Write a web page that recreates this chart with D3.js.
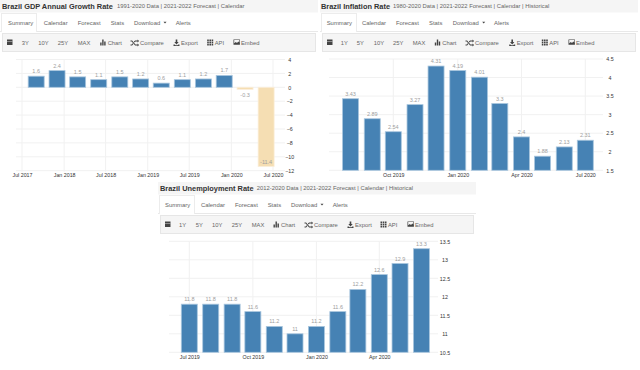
<!DOCTYPE html>
<html>
<head>
<meta charset="utf-8">
<script src="https://cdn.jsdelivr.net/npm/d3@7"></script>
<style>
  html, body { margin: 0; padding: 0; background: #fff; }
  text { font-family: "Liberation Sans", Arial, sans-serif; }
</style>
</head>
<body>
<svg id="chart" width="640" height="370"></svg>
<script>
// values
const gdpDates = ["2017-09-01", "2017-12-01", "2018-03-01", "2018-06-01", "2018-09-01", "2018-12-01",
  "2019-03-01", "2019-06-01", "2019-09-01", "2019-12-01", "2020-03-01", "2020-06-01"];
const gdpValues = [1.6, 2.4, 1.5, 1.1, 1.5, 1.2, 0.6, 1.1, 1.2, 1.7, -0.3, -11.4];
const gdpForecast = [false, false, false, false, false, false, false, false, false, false, true, true];
const gdpTicks = ["2017-07-01", "2018-01-01", "2018-07-01", "2019-01-01", "2019-07-01", "2020-01-01", "2020-07-01"];
const gdpYTicks = [4, 2, 0, -2, -4, -6, -8, -10, -12];

const inflationDates = ["2019-08-01", "2019-09-01", "2019-10-01", "2019-11-01", "2019-12-01", "2020-01-01",
  "2020-02-01", "2020-03-01", "2020-04-01", "2020-05-01", "2020-06-01", "2020-07-01"];
const inflationValues = [3.43, 2.89, 2.54, 3.27, 4.31, 4.19, 4.01, 3.3, 2.4, 1.88, 2.13, 2.31];
const inflationTicks = ["2019-10-01", "2020-01-01", "2020-04-01", "2020-07-01"];
const inflationYTicks = [1.5, 2, 2.5, 3, 3.5, 4, 4.5];

const jobsDates = ["2019-07-01", "2019-08-01", "2019-09-01", "2019-10-01", "2019-11-01", "2019-12-01",
  "2020-01-01", "2020-02-01", "2020-03-01", "2020-04-01", "2020-05-01", "2020-06-01"];
const jobsValues = [11.8, 11.8, 11.8, 11.6, 11.2, 11, 11.2, 11.6, 12.2, 12.6, 12.9, 13.3];
const jobsTicks = ["2019-07-01", "2019-10-01", "2020-01-01", "2020-04-01"];
const jobsYTicks = [10.5, 11, 11.5, 12, 12.5, 13, 13.5];

const tabs = ["Summary", "Calendar", "Forecast", "Stats", "Download", "Alerts"];
const parseDate = d3.utcParse("%Y-%m-%d");
const tickFormat = d3.utcFormat("%b %Y");
const svg = d3.select("#chart");

// toolbar glyphs, 6px box with the origin at top left
const icons = {
  chart: "M0 6V3h1.4v3zM2 6V0h1.4v6zM4 6V2h1.4v4z",
  compare: "M0 1h1.6l3.4 4H7V4l1.6 1.5L7 7V6H4.6L1.2 2H0zM0 5h1.2l1-1.2.7.8L1.6 6H0zM4.6 1H7V0l1.6 1.5L7 3V2H5l-.9 1-.7-.8z",
  export: "M2.2 0h1.6v2.6h1.4L3 5 .8 2.6h1.4zM0 5h1.2l.9.9h1.8l.9-.9H6v1.6H0z",
  api: "M0 0h1.6v1.6H0zM2.2 0h1.6v1.6H2.2zM4.4 0H6v1.6H4.4zM0 2.2h1.6v1.6H0zM2.2 2.2h1.6v1.6H2.2zM4.4 2.2H6v1.6H4.4zM0 4.4h1.6V6H0zM2.2 4.4h1.6V6H2.2zM4.4 4.4H6V6H4.4z",
  embed: "M0 0h6.4v5.4H0zM.7.7v3.2l1.6-1.4 1.2 1 1.3-1.5 1 1.1V.7z"
};

function panel(opts) {
  const g = svg.append("g").attr("transform", `translate(${opts.left},${opts.top})`);

  // title strip
  g.append("rect").attr("x", 0).attr("y", 0).attr("width", opts.width).attr("height", 12.5).attr("fill", "#f5f5f5");
  g.append("text").attr("x", opts.titleX).attr("y", 8.5)
    .attr("font-size", 7.4).attr("font-weight", "bold").attr("fill", "#333").text(opts.title);
  g.append("text").attr("x", opts.subX).attr("y", 8.2)
    .attr("font-size", 5.85).attr("fill", "#666").text(opts.sub);

  // tabs
  g.append("line").attr("x1", 0).attr("x2", opts.width).attr("y1", 31.5).attr("y2", 31.5).attr("stroke", "#e8e8e8");
  g.append("rect").attr("x", 1.5).attr("y", 13.5).attr("width", 35).attr("height", 18)
    .attr("fill", "#fff").attr("stroke", "#ececec");
  g.append("rect").attr("x", 2).attr("y", 31).attr("width", 34).attr("height", 1.5).attr("fill", "#fff");
  const tabG = g.append("g").attr("font-size", 5.9).attr("fill", "#666");
  tabs.forEach((t, i) => {
    tabG.append("text").attr("x", opts.tabX[i]).attr("y", 24.5).text(t);
  });
  tabG.append("path").attr("d", `M${opts.tabX[4] + 29.5} 21.7 h3 l-1.5 1.8 z`).attr("fill", "#444");

  // toolbar
  g.append("rect").attr("x", 2.5).attr("y", 33.5).attr("width", opts.width - 5).attr("height", 18)
    .attr("fill", "#f5f5f5").attr("stroke", "#e6e6e6");
  g.append("rect").attr("x", 7).attr("y", 39.5).attr("width", 5.5).attr("height", 5.5).attr("fill", "#444");
  g.append("rect").attr("x", 7).attr("y", 41).attr("width", 5.5).attr("height", 0.5).attr("fill", "#ddd");
  opts.toolbar.forEach(d => {
    g.append("text").attr("x", d[1]).attr("y", 44.5).attr("font-size", 5.8).attr("fill", "#666").text(d[0]);
    if (d[2]) {
      const off = d[2] === "compare" ? 9.5 : 7.5;
      g.append("path").attr("d", icons[d[2]]).attr("fill", "#444")
        .attr("transform", `translate(${d[1] - off},39.4)`);
    }
  });

  // plot
  const dates = opts.dates.map(parseDate);
  const ticks = opts.ticks.map(parseDate);
  const x = d3.scaleTime().domain(d3.extent(ticks)).range(opts.xRange);
  const y = d3.scaleLinear().domain(opts.yDomain).range(opts.yRange);
  const plot = svg.append("g");
  const base = opts.base;

  plot.selectAll("line.h").data(opts.yTicks).enter().append("line").attr("class", "h")
    .attr("x1", opts.gridLeft).attr("x2", opts.gridRight)
    .attr("y1", d => y(d)).attr("y2", d => y(d))
    .attr("stroke", "#f1f1f1");
  plot.selectAll("line.v").data(ticks).enter().append("line").attr("class", "v")
    .attr("x1", d => x(d)).attr("x2", d => x(d))
    .attr("y1", opts.yRange[1]).attr("y2", opts.yRange[0] + 1)
    .attr("stroke", "#f1f1f1");

  const axisX = d3.axisBottom(x).tickValues(ticks).tickFormat(tickFormat).tickSize(0).tickPadding(0);
  const gx = plot.append("g").attr("transform", `translate(0,${opts.yRange[0] + 3})`).call(axisX);
  gx.select(".domain").remove();
  gx.selectAll("text").attr("font-size", 5.3).attr("fill", "#333").attr("font-family", "Liberation Sans");

  const axisY = d3.axisRight(y).tickValues(opts.yTicks).tickFormat(d3.format("")).tickSize(0).tickPadding(0);
  const gy = plot.append("g").attr("transform", `translate(${opts.axisX},0)`).call(axisY);
  gy.select(".domain").remove();
  gy.selectAll("text").attr("font-size", 5.3).attr("fill", "#333").attr("text-anchor", "middle").attr("font-family", "Liberation Sans");

  const rows = opts.values.map((v, i) => ({ date: dates[i], value: v, forecast: opts.forecast ? opts.forecast[i] : false }));
  const barW = 16;

  plot.selectAll("rect.bar").data(rows).enter().append("rect").attr("class", "bar")
    .attr("x", d => x(d.date) - barW / 2)
    .attr("width", barW)
    .attr("y", d => Math.min(y(d.value), y(base)))
    .attr("height", d => Math.abs(y(d.value) - y(base)))
    .attr("fill", d => d.forecast ? "#f5deb3" : "#4682b4")
    .attr("stroke", d => d.forecast ? "#fbeeda" : "#a9c6de")
    .attr("stroke-width", 0.8);

  plot.selectAll("text.lab").data(rows).enter().append("text").attr("class", "lab")
    .attr("x", d => x(d.date))
    .attr("y", d => {
      if (d.value === -11.4) return y(d.value) - 2.5;
      return d.value < base ? y(d.value) + 8 : y(d.value) - 3;
    })
    .attr("text-anchor", "middle")
    .attr("font-size", 5.5)
    .attr("fill", "#a0a0a0")
    .text(d => d.value);
}

panel({
  left: 0, top: 0, width: 318, titleX: 2, subX: 117,
  title: "Brazil GDP Annual Growth Rate",
  sub: "1991-2020 Data | 2021-2022 Forecast | Calendar",
  tabX: [8, 43.7, 77.7, 110.7, 134, 175.7],
  toolbar: [["3Y", 21.7], ["10Y", 38.3], ["25Y", 57.7], ["MAX", 77.7], ["Chart", 107.7, "chart"], ["Compare", 140, "compare"],
    ["Export", 181, "export"], ["API", 214.7, "api"], ["Embed", 241, "embed"]],
  dates: gdpDates, values: gdpValues, forecast: gdpForecast, ticks: gdpTicks, yTicks: gdpYTicks,
  xRange: [22, 273], yDomain: [-12, 4], yRange: [170.7, 59.5], base: 0,
  gridLeft: 16, gridRight: 285, axisX: 289.7
});

panel({
  left: 320, top: 0, width: 318, titleX: 1, subX: 73,
  title: "Brazil Inflation Rate",
  sub: "1980-2020 Data | 2021-2022 Forecast | Calendar | Historical",
  tabX: [6.7, 42, 76, 109, 132.7, 174],
  toolbar: [["1Y", 20.7], ["5Y", 36.7], ["10Y", 53.7], ["25Y", 73], ["MAX", 92.7], ["Chart", 122.3, "chart"], ["Compare", 155, "compare"],
    ["Export", 196.7, "export"], ["API", 229.3, "api"], ["Embed", 256, "embed"]],
  dates: inflationDates, values: inflationValues, ticks: inflationTicks, yTicks: inflationYTicks,
  xRange: [393.3, 585.3], yDomain: [1.5, 4.5], yRange: [170.3, 59], base: 1.5,
  gridLeft: 329, gridRight: 603, axisX: 610
});

panel({
  left: 158, top: 182, width: 318, titleX: 2, subX: 98.7,
  title: "Brazil Unemployment Rate",
  sub: "2012-2020 Data | 2021-2022 Forecast | Calendar | Historical",
  tabX: [7, 43, 77, 109.7, 133, 174.7],
  toolbar: [["1Y", 21], ["5Y", 37.7], ["10Y", 54], ["25Y", 73.7], ["MAX", 93.7], ["Chart", 123, "chart"], ["Compare", 156, "compare"],
    ["Export", 197, "export"], ["API", 230, "api"], ["Embed", 257, "embed"]],
  dates: jobsDates, values: jobsValues, ticks: jobsTicks, yTicks: jobsYTicks,
  xRange: [189.3, 379.3], yDomain: [10.5, 13.5], yRange: [352.3, 241.3], base: 10.5,
  gridLeft: 169, gridRight: 438, axisX: 445
});
</script>
</body>
</html>
